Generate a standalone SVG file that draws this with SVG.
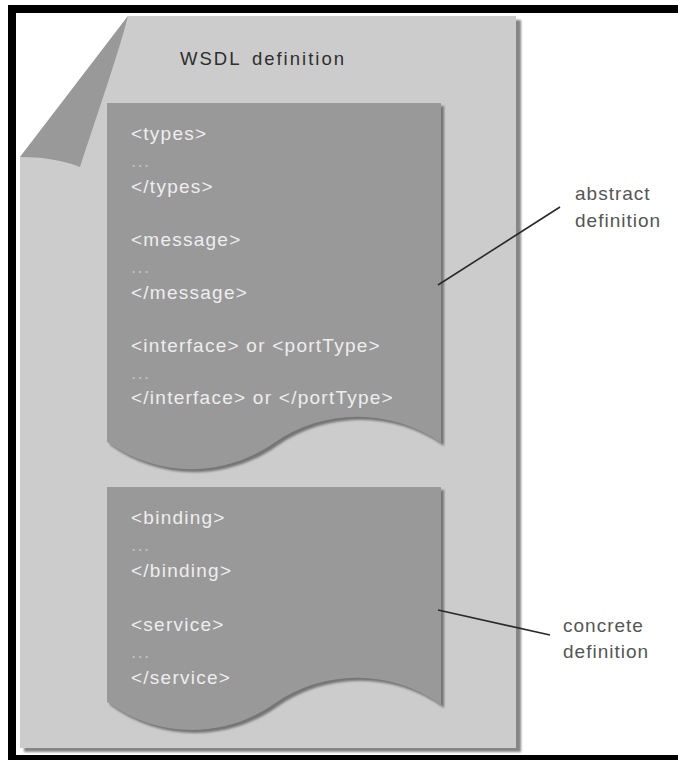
<svg xmlns="http://www.w3.org/2000/svg" width="678" height="760" viewBox="0 0 678 760">
  <style>
    .frame { fill: #ffffff; stroke: #000000; stroke-width: 8; }
    .page { fill: #cccccc; }
    .page-shadow { fill: #858585; }
    .flap { fill: #999999; }
    .box { fill: #999999; }
    .box-shadow { fill: #757575; }
    .code { font-family: "Liberation Sans", Arial, sans-serif; font-size: 19px; letter-spacing: 1.25px; fill: #eeeeee; }
    .dots { font-family: "Liberation Sans", Arial, sans-serif; font-size: 19px; letter-spacing: 1.25px; fill: #c2c2c2; }
    .title { font-family: "Liberation Sans", Arial, sans-serif; font-size: 18.5px; letter-spacing: 2px; word-spacing: 4px; fill: #2e2e2e; }
    .label { font-family: "Liberation Sans", Arial, sans-serif; font-size: 19px; letter-spacing: 1px; fill: #555555; }
    .leader { stroke: #2a2a2a; stroke-width: 1.6; fill: none; }
  </style>
  <defs>
    <filter id="soft" x="-5%" y="-5%" width="110%" height="110%">
      <feGaussianBlur stdDeviation="0.8"/>
    </filter>
    <!-- wavy-bottom document shapes -->
    <path id="abstract-shape" d="M107,103 L441,103 L441,443 C391,408 324,408 274,443 C224,478 157,478 107,442 Z"/>
    <path id="concrete-shape" d="M107,487 L441,487 L441,705 C391,669 324,669 274,704 C224,739 157,739 107,702 Z"/>
  </defs>

  <!-- outer frame -->
  <rect class="frame" x="12" y="9" width="700" height="750"/>

  <!-- sheet with turned-down corner -->
  <g id="wsdl-definition">
    <path class="page-shadow" filter="url(#soft)" d="M133,20 L521,20 L521,752 L24,752 L24,161 Z"/>
    <path class="page" d="M128,16 L516,16 L516,748 L20,748 L20,157 Z"/>
    <path class="flap" d="M128,16 C118,55 96,118 80,167 C62,160 42,157 20,157 Z"/>
    <text class="title" x="180" y="65">WSDL definition</text>
  </g>

  <!-- abstract part -->
  <g id="abstract-definition">
    <use href="#abstract-shape" class="box-shadow" filter="url(#soft)" transform="translate(3,3)"/>
    <use href="#abstract-shape" class="box"/>
    <text class="code" x="131" y="140">&lt;types&gt;</text>
    <text class="dots" x="131" y="166.5">...</text>
    <text class="code" x="131" y="193">&lt;/types&gt;</text>
    <text class="code" x="131" y="246">&lt;message&gt;</text>
    <text class="dots" x="131" y="272.5">...</text>
    <text class="code" x="131" y="299">&lt;/message&gt;</text>
    <text class="code" x="131" y="352">&lt;interface&gt; or &lt;portType&gt;</text>
    <text class="dots" x="131" y="378.5">...</text>
    <text class="code" x="131" y="404">&lt;/interface&gt; or &lt;/portType&gt;</text>
  </g>

  <!-- concrete part -->
  <g id="concrete-definition">
    <use href="#concrete-shape" class="box-shadow" filter="url(#soft)" transform="translate(3,3)"/>
    <use href="#concrete-shape" class="box"/>
    <text class="code" x="131" y="524">&lt;binding&gt;</text>
    <text class="dots" x="131" y="550.5">...</text>
    <text class="code" x="131" y="577">&lt;/binding&gt;</text>
    <text class="code" x="131" y="631">&lt;service&gt;</text>
    <text class="dots" x="131" y="657.5">...</text>
    <text class="code" x="131" y="684">&lt;/service&gt;</text>
  </g>

  <!-- side labels -->
  <g id="label-abstract">
    <text class="label" x="575" y="200">abstract</text>
    <text class="label" x="575" y="227">definition</text>
  </g>
  <g id="label-concrete">
    <text class="label" x="563" y="632">concrete</text>
    <text class="label" x="563" y="658">definition</text>
  </g>

  <!-- leader lines -->
  <g id="connectors">
    <line class="leader" x1="438" y1="285" x2="560" y2="207"/>
    <line class="leader" x1="438" y1="610" x2="550" y2="635"/>
  </g>
</svg>
